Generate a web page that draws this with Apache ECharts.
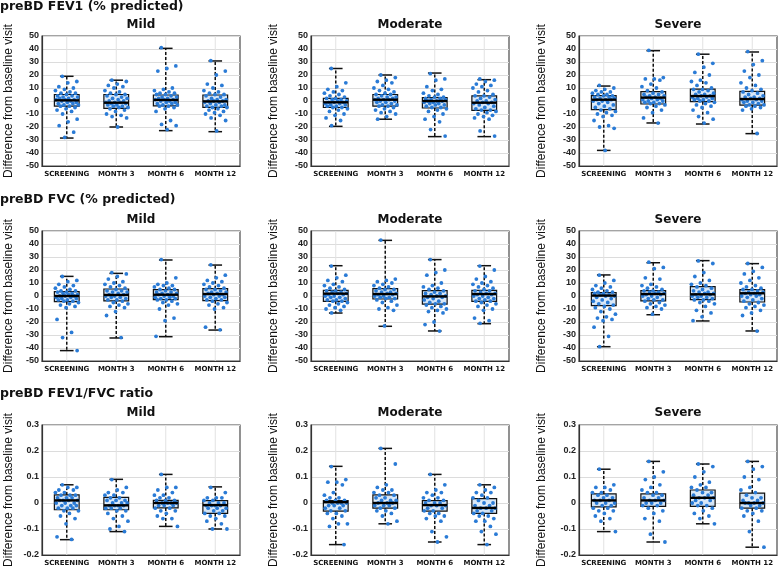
<!DOCTYPE html>
<html>
<head>
<meta charset="utf-8">
<script src="https://cdn.jsdelivr.net/npm/echarts@6/dist/echarts.min.js"></script>
<style>
html,body{margin:0;padding:0;background:#fff;}
#chart{width:779px;height:569px;}
</style>
</head>
<body>
<div id="chart"></div>
<script>
// ---------- labels ----------
const categories = ['SCREENING', 'MONTH 3', 'MONTH 6', 'MONTH 12'];
const rowTitles = ['preBD FEV1 (% predicted)', 'preBD FVC (% predicted)', 'preBD FEV1/FVC ratio'];
const severityTitles = ['Mild', 'Moderate', 'Severe'];
const yAxisName = 'Difference from baseline visit';
const pctAxis = [-50, 50, 10];
const ratioAxis = [-0.2, 0.3, 0.1];

// ---------- box stats: [min, Q1, median, Q3, max] per visit ----------
const fev1MildBox = [[-28.5,-4,0.5,5,19],[-20,-5.6,-1.3,5,16],[-22.8,-3.8,0.8,4.6,40.5],[-23.6,-4.9,-0.3,4.6,30.8]];
const fev1ModBox  = [[-19.5,-5,-1,2,25],[-14,-4,1,5,20],[-27.4,-5.4,0,2.6,21.5],[-27.4,-7.2,-1.3,4,16.4]];
const fev1SevBox  = [[-38,-6.7,1,4.1,11.5],[-16.9,-2.3,2.6,7.2,38.7],[-17.7,-0.5,3.8,9.2,36],[-25.1,-3.1,1.5,7.4,37.7]];
const fvcMildBox  = [[-42,-4.4,0,3.3,15.1],[-32.3,-3.8,0.8,5.4,17.4],[-31.3,-2.8,1,4.9,27.7],[-26.2,-3.6,1.5,5.6,23.8]];
const fvcModBox   = [[-13.1,-4.1,1.8,4.4,23.3],[-23.3,-2.3,1.5,5.6,42.8],[-26.9,-6.2,-0.3,4.1,28],[-21.3,-4.1,1.5,4.4,23.3]];
const fvcSevBox   = [[-39,-7.4,0.3,2.6,16.2],[-14.4,-3.8,1.5,4.1,25.6],[-19.2,-2.8,1.3,7.2,27.2],[-26.9,-4.6,2.1,4.9,24.9]];
const ratioMildBox = [[-0.141,-0.026,0.01,0.031,0.07],[-0.11,-0.026,-0.009,0.022,0.091],[-0.09,-0.019,0,0.01,0.11],[-0.1,-0.04,-0.008,0.009,0.062]];
const ratioModBox  = [[-0.16,-0.031,0.003,0.009,0.141],[-0.08,-0.02,0,0.031,0.21],[-0.15,-0.031,-0.008,0.009,0.11],[-0.16,-0.04,-0.019,0.017,0.07]];
const ratioSevBox  = [[-0.11,-0.015,0.01,0.035,0.13],[-0.15,-0.013,0.01,0.035,0.16],[-0.08,-0.013,0.02,0.05,0.15],[-0.17,-0.02,0,0.038,0.16]];

// ---------- individual patient values per visit ----------
const fev1MildPts = [
 [19,15,14,11,10,9,8,7,6,6,5,4,4,3,3,2,2,1,1,1,0,0,-1,-1,-2,-2,-3,-3,-4,-4,-5,-6,-7,-8,-10,-14,-16,-19,-24,-28],
 [16,15,13,12,11,10,8,7,6,5,5,4,3,2,2,1,0,0,-1,-1,-1,-2,-2,-3,-3,-4,-4,-5,-5,-6,-7,-8,-10,-11,-12,-13,-20],
 [41,27,25,23,10,9,8,7,6,6,5,5,4,3,3,2,2,1,1,1,0,0,-1,-1,-2,-2,-3,-3,-4,-4,-5,-6,-8,-15,-18,-19,-22],
 [31,23,20,13,12,10,8,7,6,5,5,4,3,2,1,1,0,0,0,-1,-1,-2,-3,-3,-4,-4,-5,-5,-6,-7,-8,-9,-10,-11,-13,-15,-23]
];
const fev1ModPts = [
 [25,14,11,9,8,7,6,5,4,3,2,2,1,1,0,0,-1,-1,-1,-2,-2,-3,-3,-4,-4,-5,-5,-6,-7,-8,-10,-11,-13,-15,-19],
 [20,18,16,15,14,12,10,9,8,7,6,5,5,4,3,3,2,2,1,1,1,0,0,-1,-1,-2,-3,-3,-4,-4,-5,-6,-7,-8,-9,-10,-12,-14],
 [21,17,16,11,9,8,6,5,4,3,3,2,2,1,1,0,0,0,-1,-1,-2,-2,-3,-3,-4,-5,-5,-6,-7,-8,-10,-12,-14,-16,-22,-27],
 [17,16,15,13,12,11,10,8,7,5,4,4,3,2,1,0,0,-1,-1,-2,-2,-3,-4,-5,-6,-7,-7,-8,-9,-10,-11,-12,-13,-14,-23,-27]
];
const fev1SevPts = [
 [12,10,9,8,7,7,6,5,5,4,4,3,3,2,2,1,1,1,0,0,-1,-2,-3,-4,-5,-6,-7,-8,-9,-10,-11,-12,-15,-19,-20,-21,-38],
 [39,18,17,17,16,13,11,10,8,7,6,5,5,4,4,3,3,2,2,1,1,0,0,-1,-1,-2,-2,-3,-4,-5,-7,-9,-13,-17],
 [36,29,26,22,20,16,15,14,12,10,9,9,8,7,6,5,5,4,4,3,3,2,2,1,1,0,0,-1,-2,-3,-4,-5,-7,-9,-12,-14,-17],
 [38,31,28,23,20,18,14,12,10,9,8,7,6,5,4,3,3,2,2,1,1,0,0,-1,-1,-2,-3,-3,-4,-4,-5,-6,-7,-25]
];
const fvcMildPts = [
 [15,12,11,9,8,7,6,5,4,4,3,3,2,2,1,1,0,0,0,-1,-1,-2,-2,-3,-3,-4,-4,-5,-6,-7,-8,-9,-18,-28,-32,-42],
 [18,17,15,13,11,10,9,8,7,6,5,4,4,3,3,2,1,1,0,0,-1,-1,-2,-3,-3,-4,-5,-6,-7,-8,-9,-12,-15,-32],
 [28,14,10,9,8,8,7,6,5,5,4,3,3,2,2,1,1,0,0,-1,-1,-2,-2,-3,-3,-4,-5,-6,-7,-10,-17,-19,-31],
 [24,16,14,12,11,10,9,8,7,6,5,5,4,3,3,2,2,1,1,0,0,-1,-1,-2,-3,-3,-4,-5,-6,-7,-9,-10,-24,-26]
];
const fvcModPts = [
 [23,16,14,12,11,9,8,7,6,5,4,4,3,3,2,2,1,1,0,0,-1,-1,-2,-3,-3,-4,-4,-5,-6,-7,-8,-9,-10,-11,-13],
 [43,13,12,11,10,9,8,7,6,5,5,4,3,3,2,2,1,1,0,0,-1,-1,-2,-2,-3,-4,-5,-7,-9,-10,-11,-23],
 [28,20,18,16,10,8,7,6,5,4,3,2,2,1,0,0,-1,-1,-2,-3,-4,-5,-6,-6,-7,-8,-9,-10,-11,-12,-13,-20,-22,-27],
 [23,20,15,13,11,10,9,8,7,6,5,4,4,3,2,2,1,1,0,0,-1,-2,-2,-3,-4,-4,-5,-6,-7,-8,-10,-11,-17,-19,-21]
];
const fvcSevPts = [
 [16,12,10,8,7,6,5,4,3,3,2,2,1,1,0,0,-1,-2,-3,-4,-5,-6,-7,-8,-9,-10,-12,-14,-16,-17,-18,-19,-24,-31,-39],
 [26,22,21,14,13,9,8,7,6,5,4,4,3,3,2,2,1,1,0,0,-1,-2,-3,-3,-4,-5,-6,-7,-8,-9,-10,-14],
 [27,25,18,15,12,10,9,8,7,6,5,4,3,3,2,2,1,1,0,0,-1,-1,-2,-3,-3,-4,-5,-6,-8,-11,-13,-16,-19],
 [25,22,19,17,14,12,10,8,7,6,5,5,4,3,3,2,2,1,1,0,0,-1,-2,-3,-4,-5,-6,-7,-8,-9,-11,-13,-15,-27]
];
const ratioMildPts = [
 [0.07,0.06,0.06,0.05,0.05,0.04,0.04,0.03,0.03,0.03,0.02,0.02,0.02,0.01,0.01,0.01,0.01,0,0,0,-0.01,-0.01,-0.01,-0.02,-0.02,-0.02,-0.03,-0.03,-0.04,-0.05,-0.06,-0.08,-0.13,-0.14],
 [0.09,0.06,0.05,0.04,0.04,0.03,0.03,0.02,0.02,0.01,0.01,0.01,0,0,0,-0.01,-0.01,-0.01,-0.01,-0.02,-0.02,-0.02,-0.03,-0.03,-0.04,-0.05,-0.06,-0.07,-0.09,-0.1,-0.11],
 [0.11,0.06,0.06,0.05,0.04,0.03,0.03,0.02,0.02,0.01,0.01,0.01,0,0,0,0,-0.01,-0.01,-0.01,-0.02,-0.02,-0.03,-0.03,-0.04,-0.05,-0.06,-0.06,-0.09],
 [0.06,0.04,0.02,0.02,0.02,0.01,0.01,0,0,0,-0.01,-0.01,-0.01,-0.01,-0.02,-0.02,-0.02,-0.03,-0.03,-0.04,-0.04,-0.05,-0.05,-0.06,-0.07,-0.08,-0.1,-0.1]
];
const ratioModPts = [
 [0.14,0.09,0.08,0.08,0.07,0.04,0.03,0.02,0.02,0.01,0.01,0.01,0,0,0,0,-0.01,-0.01,-0.01,-0.02,-0.02,-0.03,-0.03,-0.04,-0.04,-0.05,-0.06,-0.08,-0.08,-0.09,-0.16],
 [0.21,0.15,0.07,0.06,0.05,0.05,0.04,0.04,0.03,0.03,0.02,0.02,0.01,0.01,0.01,0,0,0,-0.01,-0.01,-0.01,-0.02,-0.02,-0.03,-0.03,-0.04,-0.05,-0.07,-0.08],
 [0.11,0.07,0.05,0.04,0.04,0.03,0.02,0.02,0.01,0.01,0,0,0,-0.01,-0.01,-0.01,-0.02,-0.02,-0.03,-0.03,-0.04,-0.04,-0.05,-0.05,-0.06,-0.07,-0.11,-0.13,-0.15],
 [0.07,0.06,0.05,0.04,0.04,0.03,0.02,0.02,0.01,0,0,-0.01,-0.01,-0.02,-0.02,-0.02,-0.03,-0.03,-0.04,-0.04,-0.05,-0.05,-0.06,-0.07,-0.07,-0.09,-0.11,-0.12,-0.16]
];
const ratioSevPts = [
 [0.13,0.07,0.06,0.06,0.05,0.04,0.04,0.03,0.03,0.02,0.02,0.01,0.01,0.01,0,0,0,-0.01,-0.01,-0.02,-0.02,-0.03,-0.03,-0.04,-0.05,-0.06,-0.07,-0.11],
 [0.16,0.12,0.1,0.09,0.07,0.06,0.05,0.04,0.04,0.03,0.03,0.02,0.02,0.01,0.01,0.01,0,0,0,-0.01,-0.01,-0.02,-0.03,-0.04,-0.06,-0.07,-0.12,-0.15],
 [0.15,0.14,0.12,0.1,0.08,0.07,0.06,0.06,0.05,0.04,0.04,0.03,0.03,0.02,0.02,0.02,0.01,0.01,0,0,-0.01,-0.01,-0.02,-0.03,-0.04,-0.05,-0.06,-0.08],
 [0.16,0.14,0.13,0.1,0.09,0.06,0.05,0.04,0.03,0.02,0.02,0.01,0.01,0,0,0,0,-0.01,-0.01,-0.02,-0.02,-0.03,-0.03,-0.04,-0.05,-0.07,-0.11,-0.17]
];

// ---------- assembly ----------
const panels = [
  [fev1MildBox, fev1MildPts, pctAxis], [fev1ModBox, fev1ModPts, pctAxis], [fev1SevBox, fev1SevPts, pctAxis],
  [fvcMildBox, fvcMildPts, pctAxis], [fvcModBox, fvcModPts, pctAxis], [fvcSevBox, fvcSevPts, pctAxis],
  [ratioMildBox, ratioMildPts, ratioAxis], [ratioModBox, ratioModPts, ratioAxis], [ratioSevBox, ratioSevPts, ratioAxis]
];

const colLeft = [42, 311, 579];
const rowTop = [36, 231, 425];
const plotW = 198, plotH = 130;
const nameGaps = [27, 31, 31];
const rowTitleY = [7, 200, 394];
const sevTitleY = [25, 220, 413];

const grid = [], xAxis = [], yAxis = [], series = [], graphic = [];

function fmt(v) { return String(+v.toFixed(2)); }

panels.forEach((p, k) => {
  const r = Math.floor(k / 3), c = k % 3;
  const [box, pts, ax] = p;
  grid.push({left: colLeft[c], top: rowTop[r], width: plotW, height: plotH,
    show: true, borderColor: '#4a4a4a', borderWidth: 1.2, backgroundColor: '#fff'});
  xAxis.push({type: 'category', gridIndex: k, data: categories, boundaryGap: true,
    axisLine: {onZero: false, lineStyle: {color: '#333', width: 1.2}},
    axisTick: {alignWithLabel: true, length: 3, lineStyle: {color: '#333'}},
    axisLabel: {interval: 0, margin: 5, fontSize: 7, fontWeight: 'bold', color: '#111', fontFamily: 'DejaVu Sans'},
    splitLine: {show: false}});
  yAxis.push({type: 'value', gridIndex: k, min: ax[0], max: ax[1], interval: ax[2],
    name: yAxisName, nameLocation: 'middle', nameGap: nameGaps[c],
    nameTextStyle: {fontSize: 12, color: '#111', fontFamily: 'Liberation Sans'},
    axisLine: {show: true, onZero: false, lineStyle: {color: '#333', width: 1.2}},
    axisTick: {show: false},
    axisLabel: {margin: 3, fontSize: 9, fontWeight: 'bold', color: '#222', fontFamily: 'Liberation Sans', formatter: fmt},
    splitLine: {show: true, lineStyle: {color: '#dcdcdc', width: 1}}});

  const boxData = box.map((b, i) => [i].concat(b));
  // boxes with whiskers
  series.push({type: 'custom', xAxisIndex: k, yAxisIndex: k, z: 2, silent: true,
    data: boxData, encode: {x: 0, y: [1, 2, 3, 4, 5]},
    renderItem: function (params, api) {
      const x = api.value(0);
      const pMin = api.coord([x, api.value(1)]);
      const pQ1 = api.coord([x, api.value(2)]);
      const pQ3 = api.coord([x, api.value(4)]);
      const pMax = api.coord([x, api.value(5)]);
      const bw = api.size([1, 0])[0] * 0.5;
      const cap = bw * 0.55;
      const cs = params.coordSys;
      const cx = pMin[0];
      return {type: 'group', children: [
        {type: 'line', shape: {x1: cx, y1: cs.y, x2: cx, y2: cs.y + cs.height}, style: {stroke: '#e2e2e2', lineWidth: 1}},
        {type: 'line', shape: {x1: cx, y1: pQ3[1], x2: cx, y2: pMax[1]}, style: {stroke: '#111', lineWidth: 1.5, lineDash: [3, 2]}},
        {type: 'line', shape: {x1: cx, y1: pQ1[1], x2: cx, y2: pMin[1]}, style: {stroke: '#111', lineWidth: 1.5, lineDash: [3, 2]}},
        {type: 'line', shape: {x1: cx - cap / 2, y1: pMax[1], x2: cx + cap / 2, y2: pMax[1]}, style: {stroke: '#111', lineWidth: 1.5}},
        {type: 'line', shape: {x1: cx - cap / 2, y1: pMin[1], x2: cx + cap / 2, y2: pMin[1]}, style: {stroke: '#111', lineWidth: 1.5}},
        {type: 'rect', shape: {x: cx - bw / 2, y: pQ3[1], width: bw, height: pQ1[1] - pQ3[1]},
          style: {fill: new echarts.graphic.LinearGradient(0, 0, 0, 1, [{offset: 0, color: '#cfe2f5'}, {offset: 0.5, color: '#e3eefa'}, {offset: 1, color: '#c9def3'}]),
                  stroke: '#111', lineWidth: 1.2}}
      ]};
    }});
  // individual points
  const ptData = [];
  pts.forEach((arr, ci) => arr.forEach((v, i) => ptData.push([ci, v, i])));
  series.push({type: 'custom', xAxisIndex: k, yAxisIndex: k, z: 3, silent: true,
    data: ptData, encode: {x: 0, y: 1},
    renderItem: function (params, api) {
      const pt = api.coord([api.value(0), api.value(1)]);
      const bw = api.size([1, 0])[0] * 0.5;
      const i = api.value(2);
      const j = ((i * 0.6180339887 + 0.31) % 1) - 0.5;
      return {type: 'circle', shape: {cx: pt[0] + j * bw * 0.95, cy: pt[1], r: 1.9},
        style: {fill: '#2a7bd6'}};
    }});
  // medians on top
  series.push({type: 'custom', xAxisIndex: k, yAxisIndex: k, z: 4, silent: true,
    data: boxData, encode: {x: 0, y: 3},
    renderItem: function (params, api) {
      const pMed = api.coord([api.value(0), api.value(3)]);
      const bw = api.size([1, 0])[0] * 0.5;
      return {type: 'line', shape: {x1: pMed[0] - bw / 2, y1: pMed[1], x2: pMed[0] + bw / 2, y2: pMed[1]},
        style: {stroke: '#000', lineWidth: 2.4}};
    }});

  graphic.push({type: 'text', x: colLeft[c] + plotW / 2, y: sevTitleY[r], silent: true,
    style: {text: severityTitles[c], align: 'center', verticalAlign: 'middle', fill: '#111',
      font: 'bold 12px "DejaVu Sans"'}});
});

rowTitles.forEach((t, r) => {
  graphic.push({type: 'text', x: 0, y: rowTitleY[r], silent: true,
    style: {text: t, align: 'left', verticalAlign: 'middle', fill: '#111', font: 'bold 12.5px "DejaVu Sans"'}});
});

const chart = echarts.init(document.getElementById('chart'), null, {renderer: 'canvas'});
chart.setOption({animation: false, backgroundColor: '#fff', grid, xAxis, yAxis, series, graphic});
</script>
</body>
</html>
